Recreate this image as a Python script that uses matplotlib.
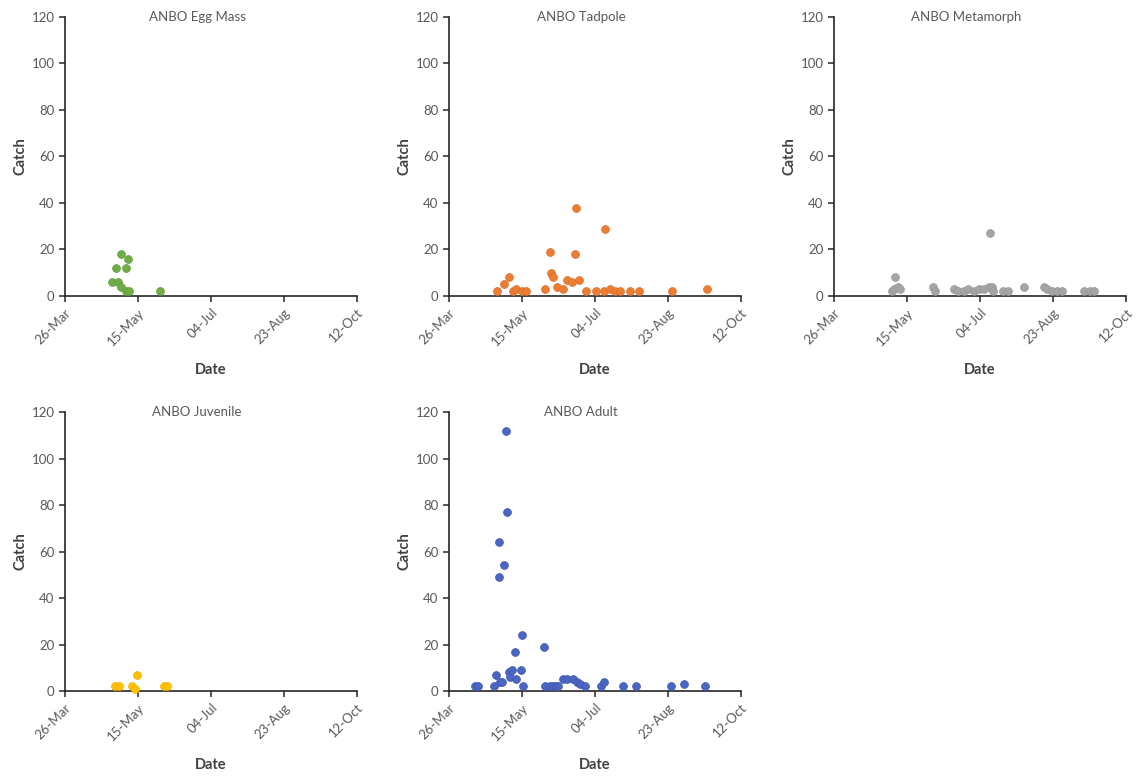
import pandas as pd
import matplotlib
matplotlib.use("Agg")
import matplotlib.pyplot as plt
import matplotlib.dates as mdates

plt.rcParams['font.family'] = ['Lato', 'DejaVu Sans']

ano = "2015"

# Egg Mass
egg_datas = ["04-27", "04-30", "05-01", "05-03", "05-03", "05-07", "05-07", "05-08", "05-09", "05-30"]
egg_catch = [6, 12, 6, 18, 4, 12, 2, 16, 2, 2]

# Tadpole
tad_datas = ["04-28", "05-03", "05-06", "05-09", "05-11", "05-15", "05-18", "05-31", "06-03", "06-04",
             "06-05", "06-08", "06-12", "06-15", "06-18", "06-20", "06-21", "06-23", "06-28", "07-05",
             "07-10", "07-11", "07-14", "07-18", "07-21", "07-28", "08-03", "08-26", "09-19"]
tad_catch = [2, 5, 8, 2, 3, 2, 2, 3, 19, 10,
             8, 4, 3, 7, 6, 18, 38, 7, 2, 2,
             2, 29, 3, 2, 2, 2, 2, 2, 3]

# Metamorph
met_datas = ["05-05", "05-06", "05-07", "05-09", "05-10", "06-02", "06-03", "06-16", "06-19", "06-23",
             "06-26", "06-30", "07-03", "07-07", "07-10", "07-11", "07-12", "07-13", "07-20", "07-23",
             "08-03", "08-17", "08-19", "08-22", "08-26", "08-29", "09-13", "09-17", "09-20"]
met_catch = [2, 3, 8, 4, 3, 4, 2, 3, 2, 2,
             3, 2, 3, 3, 4, 27, 4, 2, 2, 2,
             4, 4, 3, 2, 2, 2, 2, 2, 2]

# Juvenile
juv_datas = ["04-29", "05-02", "05-11", "05-13", "05-14", "06-02", "06-04"]
juv_catch = [2, 2, 2, 1, 7, 2, 2]

# Adult
adu_datas = ["04-13", "04-15", "04-26", "04-27", "04-29", "04-29", "04-30", "05-01", "05-03", "05-04",
             "05-05", "05-06", "05-07", "05-08", "05-10", "05-11", "05-14", "05-15", "05-16", "05-30",
             "05-31", "06-03", "06-05", "06-07", "06-09", "06-12", "06-15", "06-19", "06-22", "06-24",
             "06-27", "07-08", "07-10", "07-23", "08-01", "08-25", "09-03", "09-17"]
adu_catch = [2, 2, 2, 7, 49, 64, 4, 4, 54, 112,
             77, 8, 6, 9, 17, 5, 9, 24, 2, 19,
             2, 2, 2, 2, 2, 5, 5, 5, 4, 3,
             2, 2, 4, 2, 2, 2, 3, 2]

ticks_datas = ["03-26", "05-15", "07-04", "08-23", "10-12"]

paineis = [
    ("ANBO Egg Mass", egg_datas, egg_catch, "#70AD47", "#5f9a3c"),
    ("ANBO Tadpole", tad_datas, tad_catch, "#ED7D31", "#d4702c"),
    ("ANBO Metamorph", met_datas, met_catch, "#A5A5A5", "#979797"),
    ("ANBO Juvenile", juv_datas, juv_catch, "#FFC000", "#ecb200"),
    ("ANBO Adult", adu_datas, adu_catch, "#4A66C4", "#4055a8"),
]

posicoes = [
    (0.0569, 0.6186), (0.3928, 0.6186), (0.7297, 0.6186),
    (0.0569, 0.1095), (0.3928, 0.1095),
]

def datas(lista):
    return pd.to_datetime([ano + "-" + d for d in lista])

fig = plt.figure(figsize=(11.43, 7.76), dpi=100)

for (titulo, d, c, cor, borda), (x0, y0) in zip(paineis, posicoes):
    ax = fig.add_axes([x0, y0, 0.2555, 0.3595])
    ax.scatter(datas(d), c, s=32, color=cor, edgecolors=borda, linewidths=0.5, zorder=3, clip_on=False)
    t = datas(ticks_datas)
    ax.set_xlim(t[0], t[-1])
    ax.set_ylim(0, 120)
    ax.set_xticks(t)
    ax.xaxis.set_major_formatter(mdates.DateFormatter('%d-%b'))
    ax.set_yticks(range(0, 121, 20))
    for s in ['top', 'right']:
        ax.spines[s].set_visible(False)
    for s in ['left', 'bottom']:
        ax.spines[s].set_color('#262626')
        ax.spines[s].set_linewidth(1.2)
    ax.tick_params(direction='out', length=4, width=1.1, color='#262626',
                   labelsize=9.5, labelcolor='#595959')
    plt.setp(ax.get_xticklabels(), rotation=45, ha='right', rotation_mode='anchor')
    ax.set_xlabel('Date', fontsize=10.5, fontweight='bold', color='#404040')
    ax.set_ylabel('Catch', fontsize=10.5, fontweight='bold', color='#404040')
    ax.xaxis.set_label_coords(0.5, -0.24)
    ax.yaxis.set_label_coords(-0.13, 0.5)
    ax.text(0.452, 1.0, titulo, transform=ax.transAxes, ha='center', va='center',
            fontsize=9.5, color='#595959')

plt.savefig('out.png', dpi=100)
